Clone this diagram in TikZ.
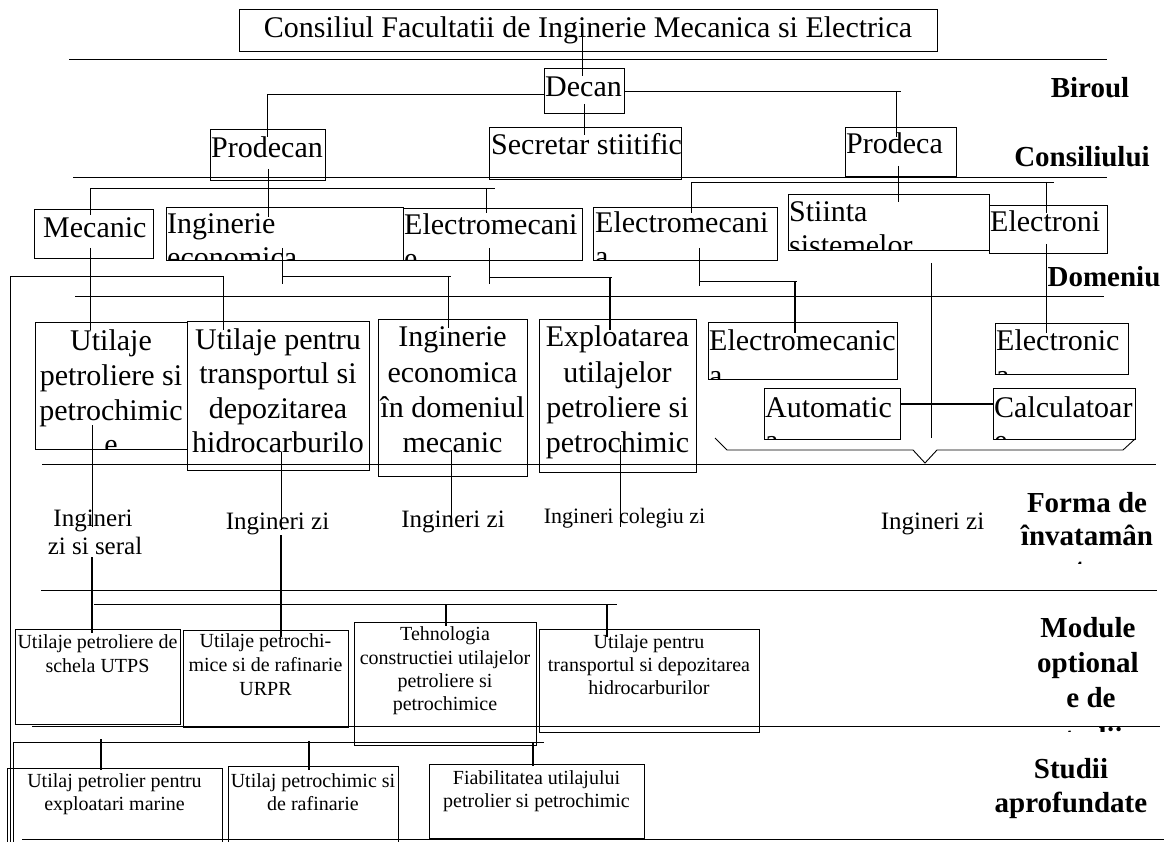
\documentclass[tikz,border=0pt]{standalone}
\usepackage{fontspec}
\setmainfont{Liberation Serif}
\usetikzlibrary{fit}
\newcommand\BigF{\fontsize{30}{36}\selectfont}
\newcommand\MidF{\fontsize{25}{30}\selectfont}
\newcommand\ColF{\fontsize{22}{26}\selectfont}
\newcommand\SmF{\fontsize{20}{24}\selectfont}
\newcommand\LabF{\fontsize{29}{35}\selectfont\bfseries}
\newcommand\myclip[5]{\begin{scope}\clip (#1,#2) rectangle (#3,#4); #5\end{scope}}
\tikzset{
  box/.style={draw, inner sep=0pt, outer sep=0pt, line width=0.8pt},
  txt/.style={inner sep=0pt, anchor=base},
  txtw/.style={inner sep=0pt, anchor=base west},
  ln/.style={line width=0.9pt},
  lnb/.style={line width=1.4pt}
}
\begin{document}
\begin{tikzpicture}[x=1pt,y=-1pt]
\useasboundingbox (0,0) rectangle (1165,842);
\fill[white] (0,0) rectangle (1165,842);

% ---------- title and Biroul ----------
\node[txt] (tT) at (588,38) {\BigF Consiliul Facultatii de Inginerie Mecanica si Electrica};
\node[box, fit={(239,9)(937,51)}] (T) {};
\draw[ln] (69,59) -- (1107,59);

\myclip{544}{68}{624}{113}{\node[txtw] (tD) at (545,97) {\BigF Decan};}
\node[box, fit={(544,68)(624,113)}] (D) {};

\myclip{210}{129}{325}{180}{\node[txtw] (tP1) at (211,158) {\BigF Prodecan};}
\node[box, fit={(210,129)(325,180)}] (P1) {};
\myclip{489}{127}{681}{179}{\node[txtw] (tS) at (491,155) {\BigF Secretar stiitific};}
\node[box, fit={(489,127)(681,179)}] (S) {};
\myclip{845}{127}{956}{176}{\node[txtw] (tP2) at (846,154) {\BigF Prodeca};}
\node[box, fit={(845,127)(956,176)}] (P2) {};

\draw[ln] (582,35) -- (582,76);
\draw[ln] (545,94) -- (267,94) -- (267,137);
\draw[ln] (624,91) -- (901,91);
\draw[ln] (896,91) -- (896,137);
\draw[ln] (584,104) -- (584,135);

\draw[ln] (73,177) -- (1107,177);

\draw[ln] (268,169) -- (268,217);
\draw[ln] (90,215) -- (90,188) -- (495,188);
\draw[ln] (486,188) -- (486,213);
\draw[ln] (898,166) -- (898,202);
\draw[ln] (691,213) -- (691,182) -- (1054,182);
\draw[ln] (1046,182) -- (1046,213);

% ---------- Domeniu ----------
\myclip{34}{209}{153}{258}{\node[txtw] (tM) at (43,238) {\BigF Mecanic};}
\node[box, fit={(34,209)(153,258)}] (M) {};
\myclip{166}{207}{403}{260}{\node[txtw] (tIE1) at (167,234) {\BigF Inginerie};
  \node[txtw] (tIE2) at (167,268) {\BigF economica};}
\node[box, fit={(166,207)(403,260)}] (IE) {};
\myclip{403}{208}{582}{260}{\node[txtw] (tEM1) at (404,235) {\BigF Electromecani};
  \node[txtw] (tEM1b) at (404,269) {\BigF e};}
\node[box, fit={(403,208)(582,260)}] (EM1) {};
\myclip{593}{207}{777}{260}{\node[txtw] (tEM2) at (595,233) {\BigF Electromecani};
  \node[txtw] (tEM2b) at (595,267) {\BigF a};}
\node[box, fit={(593,207)(777,260)}] (EM2) {};
\myclip{788}{194}{989}{250}{\node[txtw] (tSS1) at (789,222) {\BigF Stiinta};
  \node[txtw] (tSS2) at (789,256) {\BigF sistemelor};}
\node[box, fit={(788,194)(989,250)}] (SS) {};
\myclip{989}{205}{1107}{253}{\node[txtw] (tEL) at (990,232) {\BigF Electroni};}
\node[box, fit={(989,205)(1107,253)}] (EL) {};

\node[txt] (lb1) at (1090,98) {\LabF Biroul};
\node[txt] (lb2) at (1082,167) {\LabF Consiliului};
\node[txt] (lb3) at (1104,287) {\LabF Domeniu};

% connectors domain -> specialisations
\draw[ln] (282,248) -- (282,284);
\draw[ln] (282,276) -- (451,276);
\draw[ln] (448,276) -- (448,328);
\draw[ln] (90,248) -- (90,330);
\draw[ln] (10,842) -- (10,276) -- (224,276);
\draw[ln] (223,276) -- (223,330);
\draw[ln] (489,248) -- (489,284);
\draw[ln] (489,277) -- (612,277);
\draw[lnb] (610,277) -- (610,330);
\draw[ln] (699,248) -- (699,286);
\draw[ln] (699,281) -- (797,281);
\draw[lnb] (795,281) -- (795,333);
\draw[ln] (931,263) -- (931,438);
\draw[ln] (1046,244) -- (1046,333);

\draw[ln] (75,296) -- (1104,296);

% ---------- specialisations ----------
\myclip{35}{322}{187}{449}{
  \node[txt] (tR1a) at (111,351) {\BigF Utilaje};
  \node[txt] (tR1b) at (111,385.5) {\BigF petroliere si};
  \node[txt] (tR1c) at (111,420) {\BigF petrochimic};
  \node[txt] (tR1d) at (111,454.5) {\BigF e};}
\node[box, fit={(35,322)(187,449)}] (R1) {};
\myclip{187}{321}{369}{470}{
  \node[txt] (tR2a) at (278,349) {\BigF Utilaje pentru};
  \node[txt] (tR2b) at (278,383.5) {\BigF transportul si};
  \node[txt] (tR2c) at (278,418) {\BigF depozitarea};
  \node[txt] (tR2d) at (278,452.5) {\BigF hidrocarburilo};}
\node[box, fit={(187,321)(369,470)}] (R2) {};
\myclip{378}{319}{527}{476}{
  \node[txt] (tR3a) at (452.5,347) {\BigF Inginerie};
  \node[txt] (tR3b) at (452.5,382) {\BigF economica};
  \node[txt] (tR3c) at (452.5,417) {\BigF în domeniul};
  \node[txt] (tR3d) at (452.5,452) {\BigF mecanic};}
\node[box, fit={(378,319)(527,476)}] (R3) {};
\myclip{539}{319}{696}{472}{
  \node[txt] (tR4a) at (617.5,347) {\BigF Exploatarea};
  \node[txt] (tR4b) at (617.5,382) {\BigF utilajelor};
  \node[txt] (tR4c) at (617.5,417) {\BigF petroliere si};
  \node[txt] (tR4d) at (617.5,452) {\BigF petrochimic};}
\node[box, fit={(539,319)(696,472)}] (R4) {};
\myclip{708}{322}{897}{379}{
  \node[txtw] (tR5a) at (709,351) {\BigF Electromecanic};
  \node[txtw] (tR5b) at (709,385) {\BigF a};}
\node[box, fit={(708,322)(897,379)}] (R5) {};
\myclip{995}{323}{1128}{374}{
  \node[txtw] (tR6a) at (996,351) {\BigF Electronic};
  \node[txtw] (tR6b) at (996,385) {\BigF a};}
\node[box, fit={(995,323)(1128,374)}] (R6) {};
\myclip{764}{388}{900}{439}{
  \node[txtw] (tR7a) at (765,417) {\BigF Automatic};
  \node[txtw] (tR7b) at (765,450) {\BigF a};}
\node[box, fit={(764,388)(900,439)}] (R7) {};
\myclip{993}{388}{1135}{439}{
  \node[txtw] (tR8a) at (994,417) {\BigF Calculatoar};
  \node[txtw] (tR8b) at (994,450) {\BigF e};}
\node[box, fit={(993,388)(1135,439)}] (R8) {};

\draw[lnb] (R7.east |- 0,404) -- (R8.west |- 0,404);
\draw[ln] (715,438) -- (727,450) -- (913,450) -- (925,463) -- (937,450) -- (1123,450) -- (1135,439);

\draw[ln] (42,464) -- (1156,464);

% ---------- Forma de invatamant ----------
\node[txt] (f1) at (93,526) {\MidF Ingineri};
\node[txt] (f2) at (95,554) {\MidF zi si seral};
\node[txt] (f3) at (277.5,529) {\MidF Ingineri zi};
\node[txt] (f4) at (453,527) {\MidF Ingineri zi};
\node[txt] (f5) at (624.5,523) {\ColF Ingineri colegiu zi};
\node[txt] (f6) at (932.5,529) {\MidF Ingineri zi};

\draw[ln] (92,425) -- (92,527);
\draw[lnb] (92,557) -- (92,633);
\draw[ln] (281,452) -- (281,530);
\draw[lnb] (281,535) -- (281,637);
\draw[ln] (451,450) -- (451,520);
\draw[ln] (620,445) -- (620,527);

\myclip{1000}{464}{1165}{563}{
  \node[txt] (lf1) at (1087,512) {\LabF Forma de};
  \node[txt] (lf2) at (1087,545) {\LabF învatamân};
  \node[txt] (lf3) at (1080,578) {\LabF t};}

\draw[ln] (41,590) -- (1157,590);

% ---------- Module optionale ----------
\draw[ln] (94,604) -- (617,604);
\draw[lnb] (446,604) -- (446,626);
\draw[lnb] (607,604) -- (607,637);

\myclip{15}{629}{180}{724}{
  \node[txt] (tM1a) at (97.5,648) {\SmF Utilaje petroliere de};
  \node[txt] (tM1b) at (97.5,672) {\SmF schela UTPS};}
\node[box, fit={(15,629)(180,724)}] (M1) {};
\myclip{183}{630}{348}{727}{
  \node[txt] (tM2a) at (265.5,647) {\SmF Utilaje petrochi-};
  \node[txt] (tM2b) at (265.5,671) {\SmF mice si de rafinarie};
  \node[txt] (tM2c) at (265.5,695) {\SmF URPR};}
\node[box, fit={(183,630)(348,727)}] (M2) {};
\myclip{354}{622}{536}{745}{
  \node[txt] (tM3a) at (445,640) {\SmF Tehnologia};
  \node[txt] (tM3b) at (445,664) {\SmF constructiei utilajelor};
  \node[txt] (tM3c) at (445,687) {\SmF petroliere si};
  \node[txt] (tM3d) at (445,710) {\SmF petrochimice};}
\node[box, fit={(354,622)(536,745)}] (M3) {};
\myclip{539}{629}{759}{732}{
  \node[txt] (tM4a) at (649,648) {\SmF Utilaje pentru};
  \node[txt] (tM4b) at (649,671) {\SmF transportul si depozitarea};
  \node[txt] (tM4c) at (649,694) {\SmF hidrocarburilor};}
\node[box, fit={(539,629)(759,732)}] (M4) {};

\myclip{1000}{590}{1165}{731}{
  \node[txt] (lm1) at (1088,637) {\LabF Module};
  \node[txt] (lm2) at (1088,672) {\LabF optional};
  \node[txt] (lm3) at (1091,707) {\LabF e de};
  \node[txt] (lm4) at (1088,747) {\LabF studii};}

\draw[ln] (32,726) -- (1160,726);
\draw[ln] (13,842) -- (13,742) -- (544,742);

% ---------- Studii aprofundate ----------
\draw[lnb] (101,739) -- (101,770);
\draw[lnb] (309,741) -- (309,770);
\draw[lnb] (533,742) -- (533,766);

\myclip{7}{768}{222}{852}{
  \node[txt] (tS1a) at (114.5,787) {\SmF Utilaj petrolier pentru};
  \node[txt] (tS1b) at (114.5,810) {\SmF exploatari marine};}
\node[box, fit={(7,768)(222,852)}] (S1) {};
\myclip{228}{766}{398}{852}{
  \node[txt] (tS2a) at (313,787) {\SmF Utilaj petrochimic si};
  \node[txt] (tS2b) at (313,810) {\SmF de rafinarie};}
\node[box, fit={(228,766)(398,852)}] (S2) {};
\myclip{429}{764}{644}{838}{
  \node[txt] (tS3a) at (536.5,784) {\SmF Fiabilitatea utilajului};
  \node[txt] (tS3b) at (536.5,807) {\SmF petrolier si petrochimic};}
\node[box, fit={(429,764)(644,838)}] (S3) {};

\node[txt] (ls1) at (1071,778) {\LabF Studii};
\node[txt] (ls2) at (1071,812) {\LabF aprofundate};

\draw[ln] (22,839) -- (1164,839);
\end{tikzpicture}
\end{document}
